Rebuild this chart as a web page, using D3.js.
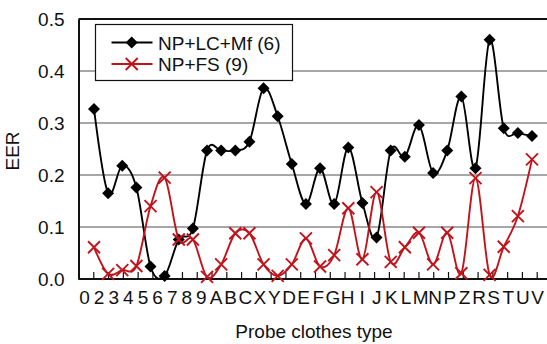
<!DOCTYPE html>
<html>
<head>
<meta charset="utf-8">
<script src="https://cdn.jsdelivr.net/npm/d3@7"></script>
<style>
  body { margin: 0; background: #fff; }
  svg text { font-family: "Liberation Sans", Arial, sans-serif; fill: #111; }
</style>
</head>
<body>
<svg id="chart" width="547" height="344"></svg>
<script>
// Probe clothes types along the x axis
const categories = ["0","2","3","4","5","6","7","8","9","A","B","C","X","Y","D",
  "E","F","G","H","I","J","K","L","M","N","P","Z","R","S","T","U","V"];

// Legend names
const seriesNames = ["NP+LC+Mf (6)", "NP+FS (9)"];

// EER per clothes type
const eerNpLcMf = [0.327,0.165,0.218,0.176,0.024,0.006,0.076,0.097,0.247,0.247,0.247,0.264,0.367,0.313,0.221,
  0.144,0.213,0.144,0.253,0.146,0.080,0.247,0.235,0.296,0.204,0.247,0.351,0.213,0.460,0.290,0.281,0.275];
const eerNpFs = [0.061,0.010,0.017,0.025,0.140,0.195,0.076,0.076,0.004,0.028,0.088,0.088,0.028,0.006,0.028,
  0.078,0.024,0.046,0.136,0.038,0.167,0.033,0.061,0.089,0.028,0.089,0.011,0.194,0.008,0.062,0.121,0.230];

const yTicks = [0, 0.1, 0.2, 0.3, 0.4, 0.5];

const svg = d3.select("#chart");
const plot = { left: 78.5, right: 547, top: 19, bottom: 279 };
const FONT = 19;

const y = d3.scaleLinear().domain([0, 0.5]).range([plot.bottom, plot.top]);
const xPts = d3.scalePoint().domain(categories).range([94, 532]);
const xLab = d3.scalePoint().domain(categories).range([84, 537]);
const xTick = d3.scaleLinear().domain([0, 31]).range([plot.left, 536.7]);

// horizontal gridlines
svg.append("g")
  .selectAll("line")
  .data(yTicks.filter(d => d > 0))
  .join("line")
  .attr("x1", plot.left).attr("x2", plot.right)
  .attr("y1", d => y(d)).attr("y2", d => y(d))
  .attr("stroke", d => d === 0.5 ? "#111" : "#8a8a8a")
  .attr("stroke-width", d => d === 0.5 ? 2 : 1.6);

// y axis
const yAxis = svg.append("g")
  .attr("transform", `translate(${plot.left},0)`)
  .call(d3.axisLeft(y).tickValues(yTicks).tickFormat(d3.format(".1f")).tickSize(0).tickPadding(14));
yAxis.select(".domain").attr("stroke", "#111").attr("stroke-width", 2);
yAxis.selectAll("text").attr("font-size", FONT).attr("font-family", "Liberation Sans, Arial, sans-serif").attr("fill", "#111");

// x axis line with inner tick marks
const xAxis = svg.append("g")
  .attr("transform", `translate(0,${plot.bottom})`)
  .call(d3.axisBottom(xTick).tickValues(d3.range(1, 32)).tickSize(-7).tickFormat(""));
xAxis.select(".domain").attr("d", `M${plot.left},0H${plot.right}`).attr("stroke", "#111").attr("stroke-width", 2);
xAxis.selectAll(".tick line").attr("stroke", "#111").attr("stroke-width", 1.2);

// category labels
const xLabels = svg.append("g")
  .attr("transform", `translate(0,${plot.bottom})`)
  .call(d3.axisBottom(xLab).tickSize(0).tickPadding(12));
xLabels.select(".domain").remove();
xLabels.selectAll("text").attr("font-size", FONT).attr("font-family", "Liberation Sans, Arial, sans-serif").attr("fill", "#111");

// axis titles
svg.append("text")
  .attr("transform", `translate(19,151) rotate(-90)`)
  .attr("text-anchor", "middle")
  .attr("font-size", FONT)
  .text("EER");
svg.append("text")
  .attr("x", 314).attr("y", 338)
  .attr("text-anchor", "middle")
  .attr("font-size", FONT)
  .text("Probe clothes type");

const line = d3.line()
  .x((d, i) => xPts(categories[i]))
  .y(d => y(d))
  .curve(d3.curveCardinal.tension(0));

const black = "#000000", red = "#c0141c";

// series 1: diamonds
svg.append("path").datum(eerNpLcMf)
  .attr("d", line).attr("fill", "none").attr("stroke", black).attr("stroke-width", 1.9);
const diamond = (cx, cy, r) => `M${cx},${cy - r}L${cx + r},${cy}L${cx},${cy + r}L${cx - r},${cy}Z`;
svg.append("g").selectAll("path")
  .data(eerNpLcMf)
  .join("path")
  .attr("d", (d, i) => diamond(xPts(categories[i]), y(d), 6))
  .attr("fill", black);

// series 2: crosses
svg.append("path").datum(eerNpFs)
  .attr("d", line).attr("fill", "none").attr("stroke", red).attr("stroke-width", 1.9);
const cross = (cx, cy, r) => `M${cx - r},${cy - r}L${cx + r},${cy + r}M${cx - r},${cy + r}L${cx + r},${cy - r}`;
svg.append("g").selectAll("path")
  .data(eerNpFs)
  .join("path")
  .attr("d", (d, i) => cross(xPts(categories[i]), y(d), 6))
  .attr("stroke", red).attr("stroke-width", 1.9).attr("fill", "none");

// legend
const lg = svg.append("g");
lg.append("rect").attr("x", 95.5).attr("y", 24.5).attr("width", 197).attr("height", 56)
  .attr("fill", "#fff").attr("stroke", "#111").attr("stroke-width", 1.2);
const legendItems = [
  { name: seriesNames[0], color: black, marker: "diamond", cy: 42.5 },
  { name: seriesNames[1], color: red, marker: "cross", cy: 64 }
];
legendItems.forEach(it => {
  lg.append("line").attr("x1", 111.5).attr("x2", 152.5).attr("y1", it.cy).attr("y2", it.cy)
    .attr("stroke", it.color).attr("stroke-width", 1.9);
  if (it.marker === "diamond") {
    lg.append("path").attr("d", diamond(131.7, it.cy, 6)).attr("fill", it.color);
  } else {
    lg.append("path").attr("d", cross(131.7, it.cy, 6)).attr("stroke", it.color).attr("stroke-width", 1.9).attr("fill", "none");
  }
  lg.append("text").attr("x", 158).attr("y", it.cy + 7).attr("font-size", FONT).text(it.name);
});
</script>
</body>
</html>
